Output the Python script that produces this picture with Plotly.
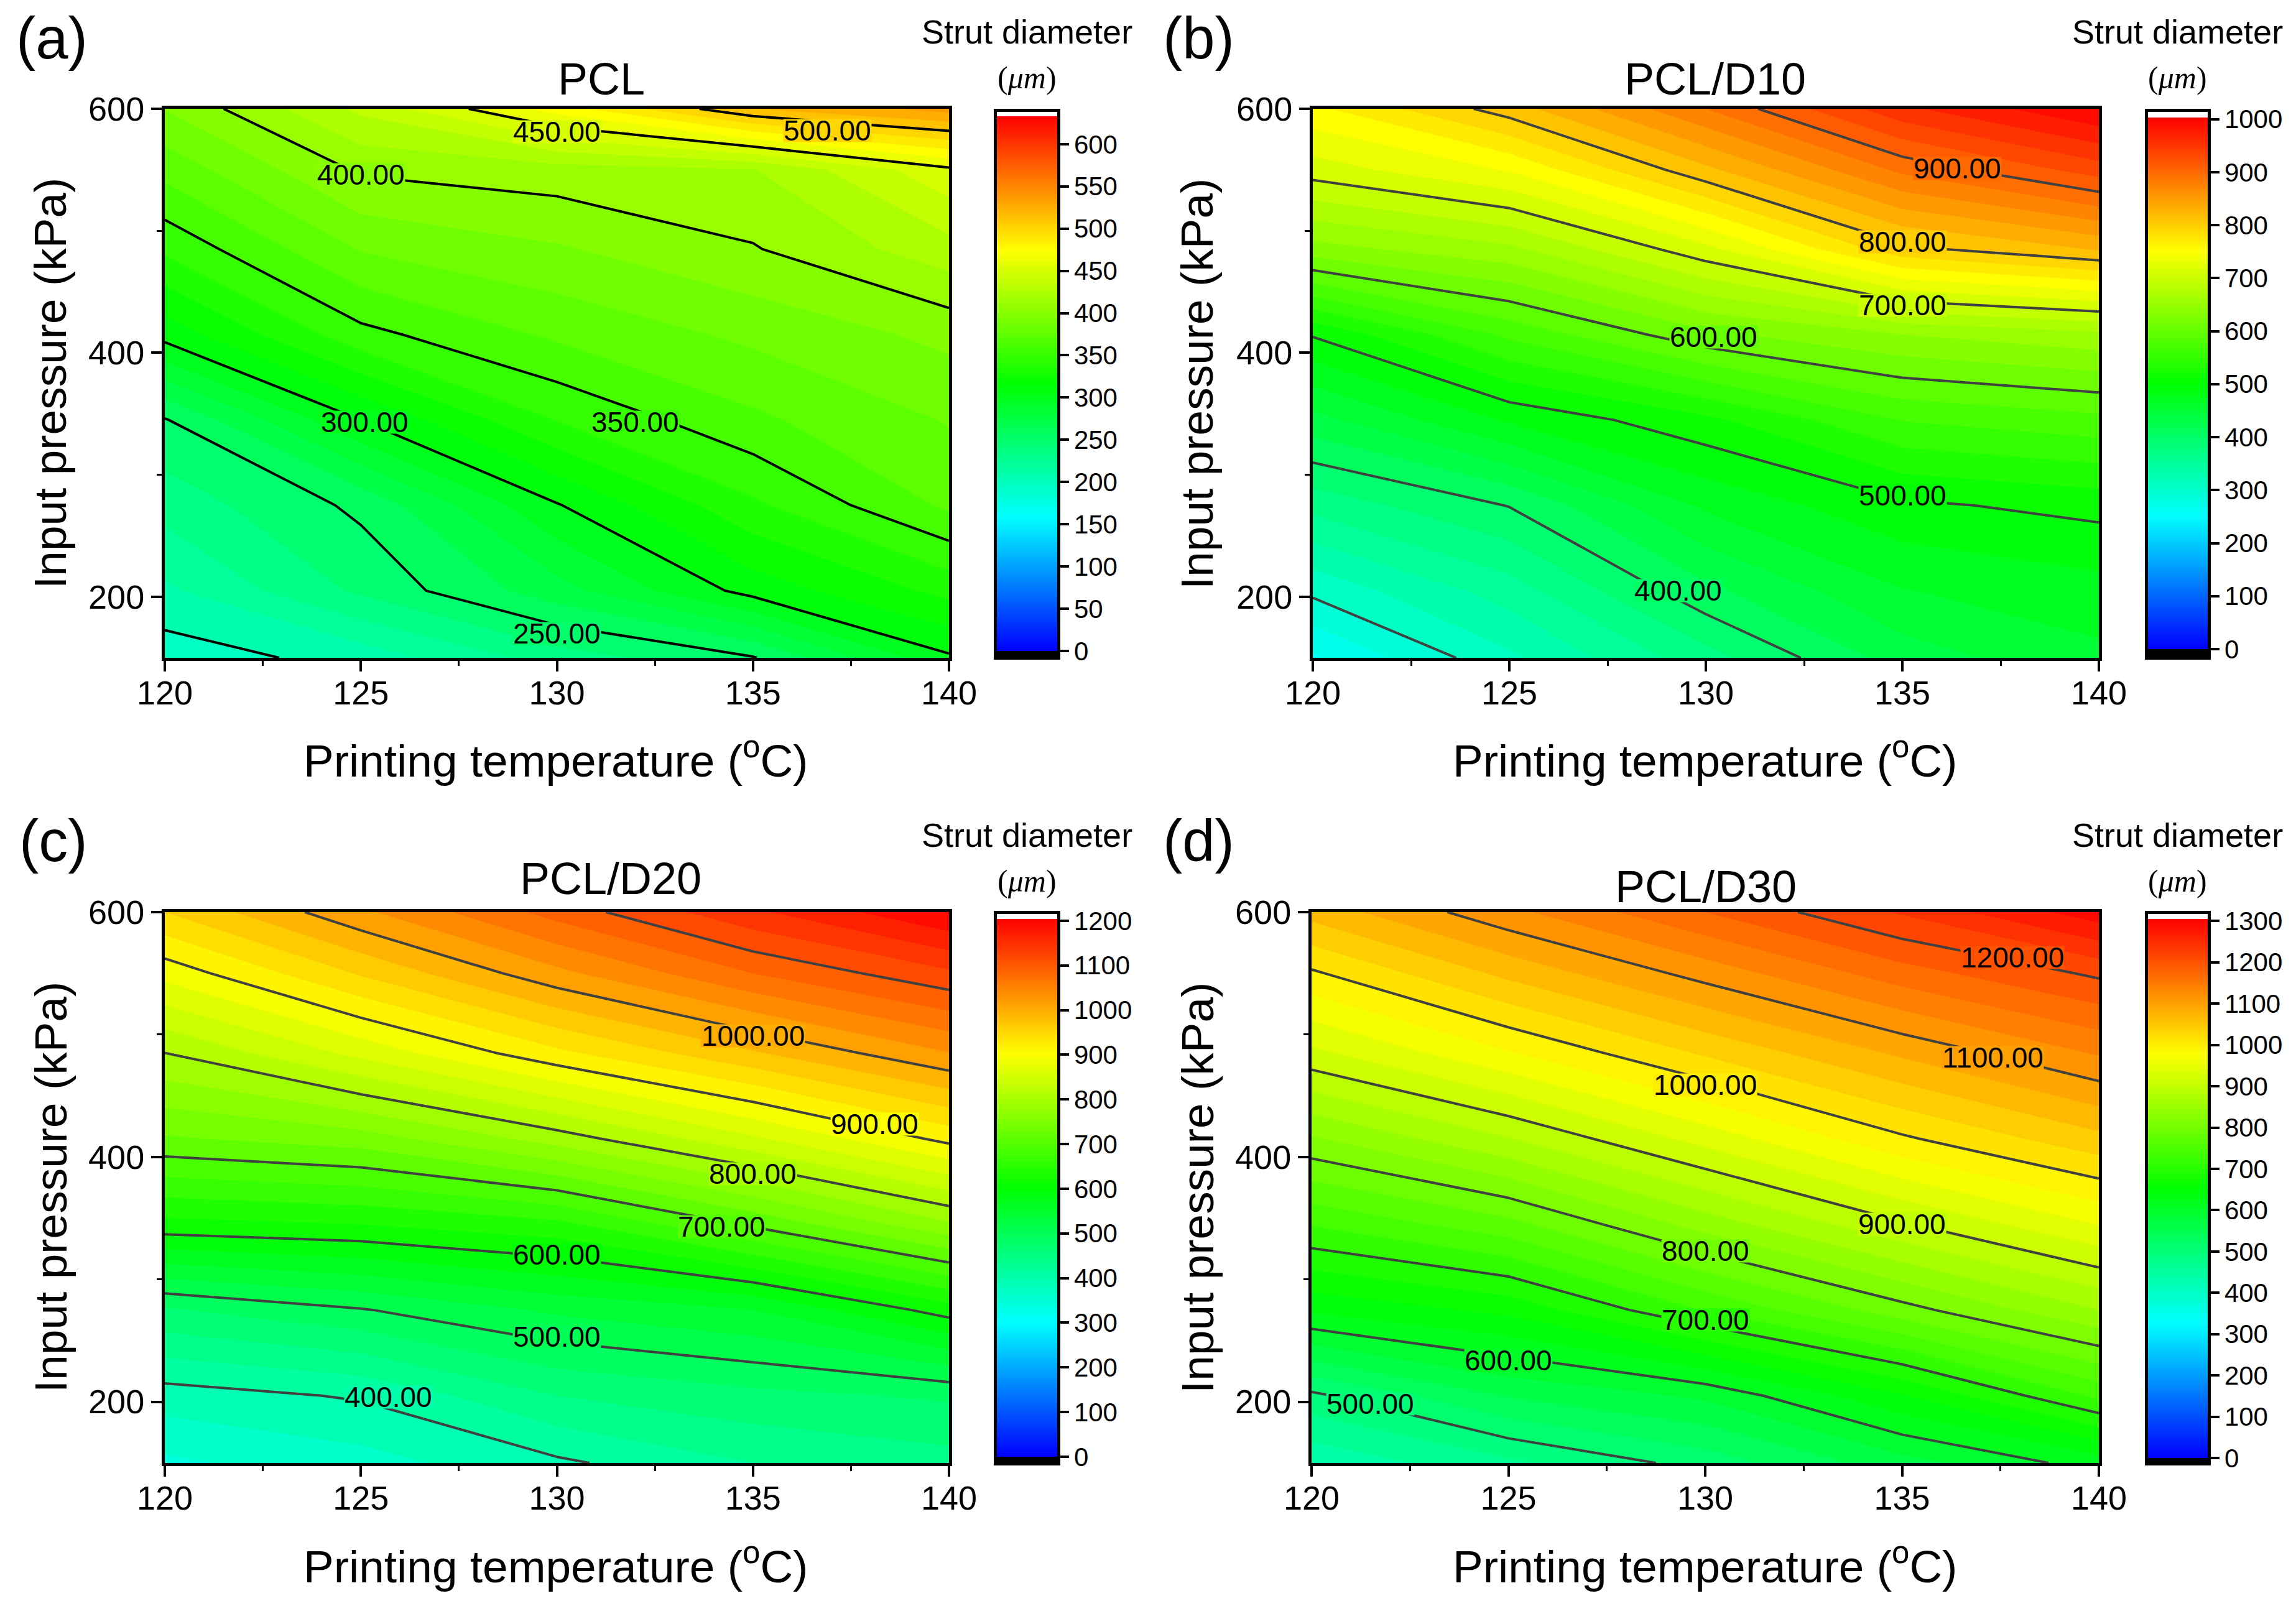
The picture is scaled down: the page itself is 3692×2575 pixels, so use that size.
import plotly.colors as pc
import plotly.graph_objects as go

W, H = 3692, 2575

# printing temperature / input pressure grid
temps = [120, 125, 130, 135, 140]
pressures = [150, 205, 275, 345, 415, 485, 550, 600]

# strut diameter, one row per pressure (bottom to top)
z_pcl = [
    [193, 205, 231, 249, 298],
    [210, 240, 270, 305, 329],
    [230, 253, 299, 335, 365],
    [249, 300, 338, 360, 376],
    [305, 346, 365, 378, 391],
    [340, 376, 386, 399, 420],
    [367, 402, 407, 412, 447],
    [388, 428, 468, 512, 530],
]
z_d10 = [
    [257, 316, 372, 430, 455],
    [305, 350, 415, 459, 472],
    [367, 401, 464, 496, 507],
    [433, 483, 515, 561, 574],
    [502, 565, 615, 640, 655],
    [632, 655, 714, 794, 822],
    [710, 742, 815, 885, 930],
    [755, 810, 880, 955, 1000],
]
z_d20 = [
    [345, 365, 395, 425, 440],
    [388, 403, 450, 468, 479],
    [472, 498, 530, 550, 612],
    [617, 625, 643, 705, 771],
    [722, 738, 787, 846, 908],
    [800, 858, 919, 972, 1024],
    [884, 953, 1018, 1075, 1120],
    [950, 1020, 1085, 1145, 1200],
]
z_d30 = [
    [430, 470, 510, 565, 612],
    [494, 552, 580, 648, 731],
    [630, 657, 727, 790, 850],
    [727, 767, 836, 897, 951],
    [822, 874, 935, 996, 1043],
    [919, 973, 1029, 1080, 1128],
    [996, 1057, 1110, 1164, 1205],
    [1060, 1118, 1175, 1228, 1290],
]

colorscale = [[0, '#0000ff'], [0.25, '#00ffff'], [0.5, '#00ff00'], [0.75, '#ffff00'], [1, '#ff0000']]

panels = [
    dict(title='PCL', tag='(a)', z=z_pcl, zmax=633, dtick=50, step=12.5, lines=(200, 500, 50), color='#000000',
         box=(265, 1526, 175, 1058), cb=(1603, 1700, 187, 1047), frame=(1598, 1705, 175, 1061),
         title_xy=(967, 127), tag_xy=(83, 62), unit_xy=(1651, 51, 125), xt_xy=(893, 1218), yt_xy=(81, 617)),
    dict(title='PCL/D10', tag='(b)', z=z_d10, zmax=1003, dtick=100, step=20, lines=(300, 900, 100), color='#404040',
         box=(2111, 3375, 175, 1058), cb=(3454, 3550, 189, 1044), frame=(3449, 3555, 175, 1061),
         title_xy=(2758, 127), tag_xy=(1927, 62), unit_xy=(3501, 51, 125), xt_xy=(2741, 1218), yt_xy=(1925, 617)),
    dict(title='PCL/D20', tag='(c)', z=z_d20, zmax=1204, dtick=100, step=25, lines=(400, 1100, 100), color='#404040',
         box=(265, 1526, 1467, 2353), cb=(1603, 1700, 1478, 2343), frame=(1598, 1705, 1465, 2357),
         title_xy=(982, 1413), tag_xy=(86, 1352), unit_xy=(1651, 1343, 1417), xt_xy=(893, 2514), yt_xy=(81, 1910)),
    dict(title='PCL/D30', tag='(d)', z=z_d30, zmax=1305, dtick=100, step=25, lines=(500, 1200, 100), color='#404040',
         box=(2109, 3375, 1467, 2353), cb=(3454, 3550, 1478, 2345), frame=(3449, 3555, 1465, 2357),
         title_xy=(2743, 1426), tag_xy=(1927, 1352), unit_xy=(3501, 1343, 1417), xt_xy=(2741, 2514), yt_xy=(1925, 1910)),
]

# contour labels: level, temperature, pressure
labels = [
    [(250, 130, 170), (300, 125.1, 343), (350, 132, 343), (400, 125, 546), (450, 130, 581), (500, 136.9, 582)],
    [(400, 129.3, 205), (500, 135, 283), (600, 130.2, 413), (700, 135, 439), (800, 135, 491), (900, 136.4, 551)],
    [(400, 125.7, 204), (500, 130, 253), (600, 130, 320), (700, 134.2, 343), (800, 135, 386), (900, 138.1, 427), (1000, 135, 499)],
    [(500, 121.5, 198), (600, 125, 234), (700, 130, 267), (800, 130, 323), (900, 135, 345), (1000, 130, 459), (1100, 137.3, 481), (1200, 137.8, 563)],
]

FONT = 'Liberation Sans'


def px(v):
    return v / W


def py(v):
    return 1 - v / H


def text(x, y, s, size, family=FONT, angle=0):
    fig.add_annotation(x=px(x), y=py(y), xref='paper', yref='paper', text=s, showarrow=False, textangle=angle,
                       xanchor='center', yanchor='middle', font=dict(family=family, size=size, color='black'))


fig = go.Figure()

for i, p in enumerate(panels):
    n = i + 1
    xa, ya = f'x{n}', f'y{n}'
    x0, x1, y0, y1 = p['box']
    c0, c1, cy0, cy1 = p['cb']

    # heatmap sits under the fill, it only gives the smooth colour bar
    fig.add_trace(go.Heatmap(
        x=temps, y=pressures, z=p['z'], xaxis=xa, yaxis=ya, zmin=0, zmax=p['zmax'], colorscale=colorscale,
        hoverinfo='skip',
        colorbar=dict(x=px(c0), xanchor='left', xref='paper', y=py(cy1), yanchor='bottom', yref='paper',
                      thickness=c1 - c0, thicknessmode='pixels', len=(cy1 - cy0) / H, lenmode='fraction',
                      xpad=0, ypad=0, outlinewidth=0, borderwidth=0,
                      tick0=0, dtick=p['dtick'], ticks='outside', ticklen=19, tickwidth=3.5, tickcolor='black',
                      tickfont=dict(family=FONT, size=42, color='black'))))
    fig.add_trace(go.Contour(
        x=temps, y=pressures, z=p['z'], xaxis=xa, yaxis=ya, zmin=0, zmax=p['zmax'], colorscale=colorscale,
        autocontour=False, contours=dict(start=0, end=p['zmax'], size=p['step'], coloring='fill'),
        line=dict(width=0, smoothing=0), showscale=False, hoverinfo='skip'))
    start, end, size = p['lines']
    fig.add_trace(go.Contour(
        x=temps, y=pressures, z=p['z'], xaxis=xa, yaxis=ya,
        autocontour=False, contours=dict(start=start, end=end, size=size, coloring='none'),
        line=dict(color=p['color'], width=4, smoothing=0), showscale=False, hoverinfo='skip'))

    fig.update_layout({
        f'xaxis{n}': dict(domain=[px(x0), px(x1)], anchor=ya, range=[120, 140], tick0=120, dtick=5, automargin=False,
                          ticks='outside', ticklen=17, tickwidth=4, tickcolor='black', ticklabelstandoff=-12,
                          minor=dict(dtick=2.5, ticks='outside', ticklen=8, tickwidth=3, tickcolor='black'),
                          showline=True, linewidth=5, linecolor='black', mirror=True, showgrid=False, zeroline=False,
                          tickfont=dict(family=FONT, size=54, color='black')),
        f'yaxis{n}': dict(domain=[py(y1), py(y0)], anchor=xa, range=[150, 600], tick0=200, dtick=200, automargin=False,
                          ticks='outside', ticklen=17, tickwidth=4, tickcolor='black',
                          minor=dict(dtick=100, ticks='outside', ticklen=8, tickwidth=3, tickcolor='black'),
                          showline=True, linewidth=5, linecolor='black', mirror=True, showgrid=False, zeroline=False,
                          tickfont=dict(family=FONT, size=54, color='black')),
    })

    # colour bar frame with the black end block
    f0, f1, fy0, fy1 = p['frame']
    fig.add_shape(type='rect', xref='paper', yref='paper', x0=px(f0), x1=px(f1), y0=py(cy1), y1=py(fy1),
                  fillcolor='black', line_width=0)
    fig.add_shape(type='rect', xref='paper', yref='paper', x0=px(f0 + 2.5), x1=px(f1 - 2.5), y0=py(fy0 + 2.5), y1=py(fy1 - 2.5),
                  line=dict(color='black', width=5))

    text(*p['xt_xy'], 'Printing temperature (<sup>o</sup>C)', 73)
    text(*p['yt_xy'], 'Input pressure (kPa)', 73, angle=-90)
    text(*p['title_xy'], p['title'], 72)
    text(*p['tag_xy'], p['tag'], 94)
    ux, uy1, uy2 = p['unit_xy']
    text(ux, uy1, 'Strut diameter', 54)
    text(ux, uy2, '(<i>μm</i>)', 50, 'Liberation Serif')

    for level, t, pr in labels[i]:
        bg = pc.sample_colorscale(colorscale, level / p['zmax'])[0]
        fig.add_annotation(x=t, y=pr, xref=xa, yref=ya, text=f'{level:.2f}', showarrow=False, height=36,
                           bgcolor=bg, borderpad=0, font=dict(family=FONT, size=46, color='black'))

fig.update_layout(width=W, height=H, autosize=False, margin=dict(l=0, r=0, t=0, b=0, pad=0),
                  paper_bgcolor='white', plot_bgcolor='white', showlegend=False)

fig.write_html('out.html', config=dict(displayModeBar=False), post_script="document.body.style.margin='0';")
